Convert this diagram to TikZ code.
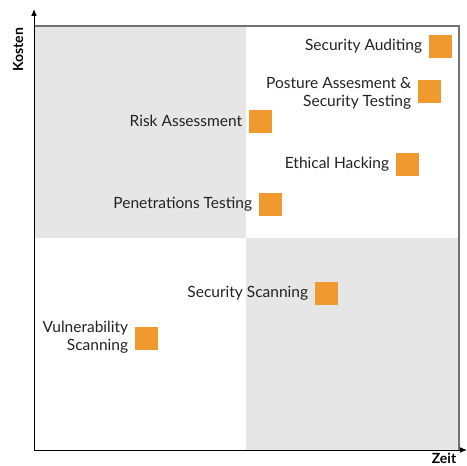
\documentclass[tikz,border=0pt]{standalone}
\usepackage{fontspec}
\setmainfont{Lato}
\usepackage{tikz}
\usetikzlibrary{arrows.meta,positioning}
\definecolor{quad}{HTML}{E6E6E6}
\definecolor{mark}{HTML}{F0992E}
\definecolor{frame}{HTML}{707070}
\definecolor{txt}{HTML}{222222}
\tikzset{
  >={Latex[length=2.4mm,width=2mm]},
  sq/.style={fill=mark,minimum size=23pt,inner sep=0pt},
  lab/.style={font=\fontsize{15.5}{18}\selectfont\color{txt},align=right,inner sep=0pt},
  axlab/.style={font=\fontsize{14}{16}\selectfont\bfseries},
  axis/.style={->,line width=1pt},
}
\begin{document}
\begin{tikzpicture}[x=1pt,y=-1pt,node distance=6pt]
\useasboundingbox (0,0) rectangle (467,466);
% quadrants
\fill[quad] (34,26) rectangle (246,238);
\fill[quad] (246,238) rectangle (459,450);
\draw[frame,line width=1.2pt] (34,26) -- (459,26) -- (459,450);
% axes
\coordinate (o) at (34,450);
\coordinate (ytop) at (34,9);
\coordinate (xend) at (467,450);
\draw[axis] (o) -- (ytop);
\draw[axis] (o) -- (xend);
\node[axlab,rotate=90] (kosten) at (18,50) {Kosten};
\node[axlab] (zeit) at (444,458) {Zeit};
% methods
\node[sq] (audit) at (440,46) {};
\node[lab,left=of audit] {Security Auditing};
\node[sq] (posture) at (429,91) {};
\node[lab,left=of posture,yshift=-2pt] {Posture Assesment \&\\Security Testing};
\node[sq] (risk) at (260,121) {};
\node[lab,left=of risk] {Risk Assessment};
\node[sq] (ethic) at (407,164) {};
\node[lab,left=of ethic] {Ethical Hacking};
\node[sq] (pentest) at (270,204) {};
\node[lab,left=of pentest] {Penetrations Testing};
\node[sq] (scan) at (326,293) {};
\node[lab,left=of scan] {Security Scanning};
\node[sq] (vuln) at (146,338) {};
\node[lab,left=of vuln,yshift=1pt] {Vulnerability\\Scanning};
\end{tikzpicture}
\end{document}
